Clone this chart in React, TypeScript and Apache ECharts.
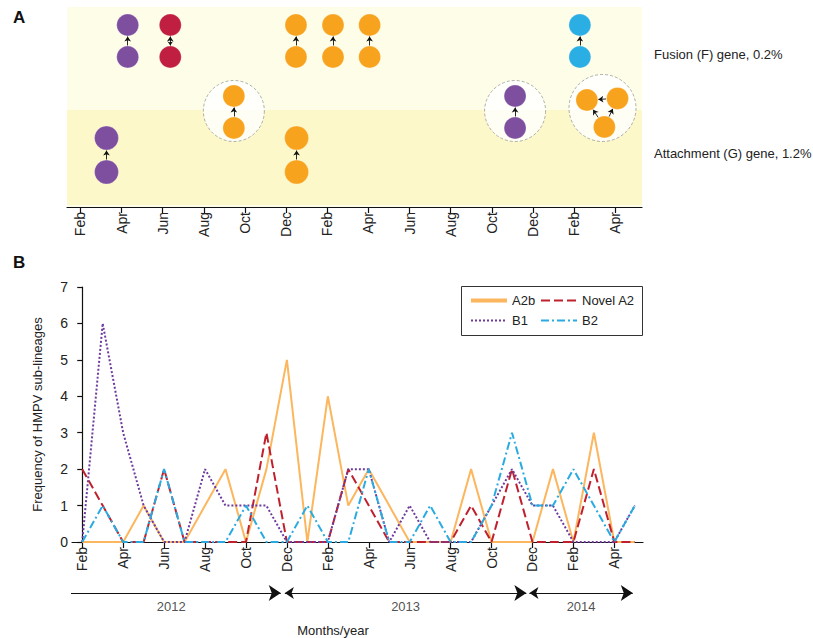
import React, { useEffect, useRef } from "react";
import * as echarts from "echarts";

// ---------- data ----------
// month index: 0 = Feb 2012 ... 27 = May 2014
const months = [0, 1, 2, 3, 4, 5, 6, 7, 8, 9, 10, 11, 12, 13, 14, 15, 16, 17, 18, 19, 20, 21, 22, 23, 24, 25, 26, 27];
const tickMonths = [0, 2, 4, 6, 8, 10, 12, 14, 16, 18, 20, 22, 24, 26];
const tickLabels = ["Feb", "Apr", "Jun", "Aug", "Oct", "Dec", "Feb", "Apr", "Jun", "Aug", "Oct", "Dec", "Feb", "Apr"];

const a2b = [0, 0, 0, 1, 0, 0, 1, 2, 0, 2, 5, 0, 4, 1, 2, 1, 0, 0, 0, 2, 0, 0, 0, 2, 0, 3, 0, 0];
const novelA2 = [2, 1, 0, 0, 2, 0, 0, 0, 0, 3, 0, 0, 0, 2, 1, 0, 0, 0, 0, 1, 0, 2, 0, 0, 0, 2, 0, 0];
const b1 = [0, 6, 3, 1, 0, 0, 2, 1, 1, 1, 0, 0, 0, 2, 2, 0, 1, 0, 0, 0, 1, 2, 1, 1, 0, 0, 0, 1];
const b2 = [0, 1, 0, 0, 2, 0, 0, 0, 1, 0, 0, 1, 0, 0, 2, 0, 0, 1, 0, 0, 1, 3, 1, 1, 2, 1, 0, 1];

// panel A events (month position, lineage)
const fusionMonths = [2.3, 4.37, 10.48, 12.28, 14.06, 24.28];
const fusionLineages = ["B1", "Novel A2", "A2b", "A2b", "A2b", "B2"];
const fusionBidirectional = [false, true, false, false, false, false];
const attachMonths = [1.27, 10.51];
const attachLineages = ["B1", "A2b"];
const bothMonths = [7.46, 21.13];
const bothLineages = ["A2b", "B1"];
const triadMonths = [25.38];
const triadLineages = ["A2b"];

const yearNames = ["2012", "2013", "2014"];
const yearStart = [-1, 9.9, 21.85];
const yearEnd = [9.7, 21.7, 26.9];

const geneLabels = ["Fusion (F) gene, 0.2%", "Attachment (G) gene, 1.2%"];

// ---------- styles ----------
const circleColor: Record<string, string> = {
  "A2b": "#F8A31E",
  "Novel A2": "#C11F42",
  "B1": "#7E4F9F",
  "B2": "#2BAEE4",
};
const FONT = "Liberation Sans, Arial, sans-serif";
const NARROW = "Liberation Sans Narrow, Liberation Sans, Arial, sans-serif";
const TXT = "#222";

const A_XMIN = -0.65, A_XMAX = 27.3;
const B_XMIN = -0.5, B_XMAX = 27.4;
const PX_X = 575 / (A_XMAX - A_XMIN);
const PX_Y = 20;

const F_TOP = 9.1, F_BOT = 7.5;
const G_TOP = 3.45, G_BOT = 1.75;
const BOTH_TOP = 5.55, BOTH_BOT = 3.95, BOTH_C = 4.8;
const BAND_SPLIT = 4.85;

function seg(p1: number[], p2: number[], gap: number) {
  const dx = (p2[0] - p1[0]) * PX_X;
  const dy = (p2[1] - p1[1]) * PX_Y;
  const len = Math.sqrt(dx * dx + dy * dy);
  const t = gap / len;
  return {
    coords: [
      [p1[0] + (p2[0] - p1[0]) * t, p1[1] + (p2[1] - p1[1]) * t],
      [p2[0] - (p2[0] - p1[0]) * t, p2[1] - (p2[1] - p1[1]) * t],
    ],
  };
}

export default function App() {
  const ref = useRef<HTMLDivElement>(null);
  useEffect(() => {
    if (!ref.current) return;
    const chart = echarts.init(ref.current, null, { renderer: "svg" });

    const circles: any[] = [];
    const bigCircles: any[] = [];
    const halos: any[] = [];
    const arrowsOne: any[] = [];
    const arrowsTwo: any[] = [];
    const GAP = 11.5;

    fusionMonths.forEach((m, i) => {
      const c = circleColor[fusionLineages[i]];
      circles.push({ value: [m, F_TOP], itemStyle: { color: c } });
      circles.push({ value: [m, F_BOT], itemStyle: { color: c } });
      (fusionBidirectional[i] ? arrowsTwo : arrowsOne).push(seg([m, F_BOT], [m, F_TOP], GAP));
    });
    attachMonths.forEach((m, i) => {
      const c = circleColor[attachLineages[i]];
      bigCircles.push({ value: [m, G_TOP], itemStyle: { color: c } });
      bigCircles.push({ value: [m, G_BOT], itemStyle: { color: c } });
      arrowsOne.push(seg([m, G_BOT], [m, G_TOP], GAP + 1));
    });
    bothMonths.forEach((m, i) => {
      const c = circleColor[bothLineages[i]];
      halos.push({ value: [m, BOTH_C], symbolSize: 61 });
      circles.push({ value: [m, BOTH_TOP], itemStyle: { color: c } });
      circles.push({ value: [m, BOTH_BOT], itemStyle: { color: c } });
      arrowsOne.push(seg([m, BOTH_BOT], [m, BOTH_TOP], GAP));
    });
    triadMonths.forEach((m, i) => {
      const c = circleColor[triadLineages[i]];
      halos.push({ value: [m, 4.95], symbolSize: 67 });
      const left = [m - 0.76, 5.35];
      const right = [m + 0.73, 5.43];
      const bottom = [m + 0.09, 4.0];
      [left, right, bottom].forEach((p) => circles.push({ value: p, itemStyle: { color: c } }));
      arrowsOne.push(seg(right, left, GAP));
      arrowsOne.push(seg(bottom, left, GAP));
      arrowsOne.push(seg(bottom, right, GAP));
    });

    const fmtTick = (v: number) => {
      const k = tickMonths.indexOf(Math.round(v));
      return k >= 0 ? tickLabels[k] : "";
    };

    const xAxisCommon = {
      type: "value",
      splitLine: { show: false },
      axisLine: { show: true, onZero: false, lineStyle: { color: "#111", width: 1.2 } },
      axisTick: { show: true, length: 6, customValues: tickMonths, lineStyle: { color: "#111", width: 1.2 } },
      axisLabel: {
        show: true,
        customValues: tickMonths,
        rotate: 90,
        formatter: fmtTick,
        color: TXT,
        fontSize: 14,
        fontFamily: FONT,
        margin: 5,
      },
    };

    const lineSeries = (name: string, vals: number[], color: string, type: any, width: number) => ({
      name,
      type: "line",
      xAxisIndex: 1,
      yAxisIndex: 1,
      data: months.map((m, i) => [m, vals[i]]),
      symbol: "none",
      lineStyle: { color, width, type },
      itemStyle: { color },
      z: 3,
    });

    const legendCommon = {
      top: 294,
      orient: "vertical",
      padding: 0,
      itemGap: 7,
      itemWidth: 36,
      itemHeight: 14,
      itemStyle: { opacity: 0 },
      textStyle: { color: TXT, fontSize: 13, fontFamily: FONT },
    };

    chart.setOption({
      animation: false,
      textStyle: { fontFamily: FONT },
      grid: [
        { left: 67, width: 575, top: 7, height: 200, show: true, backgroundColor: "#FEFDE8", borderWidth: 0 },
        { left: 72, width: 571, top: 287, height: 255 },
        { left: 72, width: 571, top: 575, height: 40 },
      ],
      xAxis: [
        { ...xAxisCommon, gridIndex: 0, min: A_XMIN, max: A_XMAX },
        { ...xAxisCommon, gridIndex: 1, min: B_XMIN, max: B_XMAX },
        { type: "value", gridIndex: 2, min: B_XMIN, max: B_XMAX, show: false },
      ],
      yAxis: [
        { type: "value", gridIndex: 0, min: 0, max: 10, show: false },
        {
          type: "value",
          gridIndex: 1,
          min: 0,
          max: 7,
          interval: 1,
          splitLine: { show: false },
          axisLine: { show: true, lineStyle: { color: "#111", width: 1.2 } },
          axisTick: { show: true, length: 5, lineStyle: { color: "#111", width: 1.2 } },
          axisLabel: { color: TXT, fontSize: 14, fontFamily: FONT, margin: 4 },
          name: "Frequency of HMPV sub-lineages",
          nameLocation: "middle",
          nameGap: 28,
          nameTextStyle: { color: TXT, fontSize: 13, fontFamily: FONT },
        },
        { type: "value", gridIndex: 2, min: 0, max: 1, show: false },
      ],
      legend: [
        {
          ...legendCommon,
          left: 469,
          data: [{ name: "A2b", lineStyle: { width: 4 } }, { name: "B1" }],
        },
        {
          ...legendCommon,
          left: 540,
          data: [{ name: "Novel A2" }, { name: "B2" }],
        },
      ],
      series: [
        {
          type: "scatter",
          xAxisIndex: 0,
          yAxisIndex: 0,
          data: [],
          markArea: {
            silent: true,
            itemStyle: { color: "#FCF8CA" },
            data: [[{ yAxis: 0.1 }, { yAxis: BAND_SPLIT }]],
          },
        },
        {
          type: "scatter",
          xAxisIndex: 0,
          yAxisIndex: 0,
          data: halos,
          itemStyle: { color: "#ffffff", borderColor: "#9a9a9a", borderWidth: 1, borderType: [3, 2] },
          z: 2,
        },
        {
          type: "scatter",
          xAxisIndex: 0,
          yAxisIndex: 0,
          data: circles,
          symbolSize: 22,
          itemStyle: { opacity: 1, borderColor: "rgba(255,255,255,0.5)", borderWidth: 0.5 },
          z: 3,
        },
        {
          type: "scatter",
          xAxisIndex: 0,
          yAxisIndex: 0,
          data: bigCircles,
          symbolSize: 24,
          itemStyle: { opacity: 1, borderColor: "rgba(255,255,255,0.5)", borderWidth: 0.5 },
          z: 3,
        },
        {
          type: "lines",
          coordinateSystem: "cartesian2d",
          xAxisIndex: 0,
          yAxisIndex: 0,
          data: arrowsOne,
          symbol: ["none", "arrow"],
          symbolSize: [4, 5],
          lineStyle: { color: "#111", width: 0.9, opacity: 1 },
          z: 4,
        },
        {
          type: "lines",
          coordinateSystem: "cartesian2d",
          xAxisIndex: 0,
          yAxisIndex: 0,
          data: arrowsTwo,
          symbol: ["arrow", "arrow"],
          symbolSize: [4, 5],
          lineStyle: { color: "#111", width: 0.9, opacity: 1 },
          z: 4,
        },
        lineSeries("A2b", a2b, "#FCB65E", "solid", 2),
        lineSeries("Novel A2", novelA2, "#C0202E", [9, 4], 2),
        lineSeries("B1", b1, "#6E3B9C", [2, 2], 2),
        lineSeries("B2", b2, "#29ABE2", [8, 3, 2, 3], 2),
        {
          type: "lines",
          coordinateSystem: "cartesian2d",
          xAxisIndex: 2,
          yAxisIndex: 2,
          data: yearNames.map((n, i) => ({ coords: [[yearStart[i], 0.55], [yearEnd[i], 0.55]] })),
          symbol: ["arrow", "arrow"],
          symbolSize: [9, 12],
          lineStyle: { color: "#111", width: 1.2, opacity: 1 },
        },
        {
          type: "scatter",
          xAxisIndex: 2,
          yAxisIndex: 2,
          symbolSize: 0,
          data: yearNames.map((n, i) => ({ value: [(yearStart[i] + yearEnd[i]) / 2, 0.22], name: n })),
          label: {
            show: true,
            position: "inside",
            formatter: (p: any) => p.name,
            color: TXT,
            fontSize: 13,
            fontFamily: NARROW,
          },
        },
      ],
      graphic: [
        { type: "text", left: 13, top: 9, style: { text: "A", fill: "#111", font: "bold 17px " + FONT } },
        { type: "text", left: 13, top: 254, style: { text: "B", fill: "#111", font: "bold 17px " + FONT } },
        { type: "text", left: 654, top: 48, style: { text: geneLabels[0], fill: TXT, font: "13px " + FONT } },
        { type: "text", left: 654, top: 147, style: { text: geneLabels[1], fill: TXT, font: "13px " + FONT } },
        {
          type: "text",
          x: 333,
          y: 630,
          style: { text: "Months/year", fill: TXT, font: "13px " + NARROW, align: "center", verticalAlign: "middle" },
        },
        {
          type: "rect",
          shape: { x: 461.5, y: 286.5, width: 181, height: 49 },
          style: { fill: "none", stroke: "#333", lineWidth: 1 },
          z: 10,
        },
      ],
    });
    return () => chart.dispose();
  }, []);
  return <div ref={ref} style={{ position: "fixed", left: 0, top: 0, width: 813, height: 638, background: "#fff" }} />;
}
